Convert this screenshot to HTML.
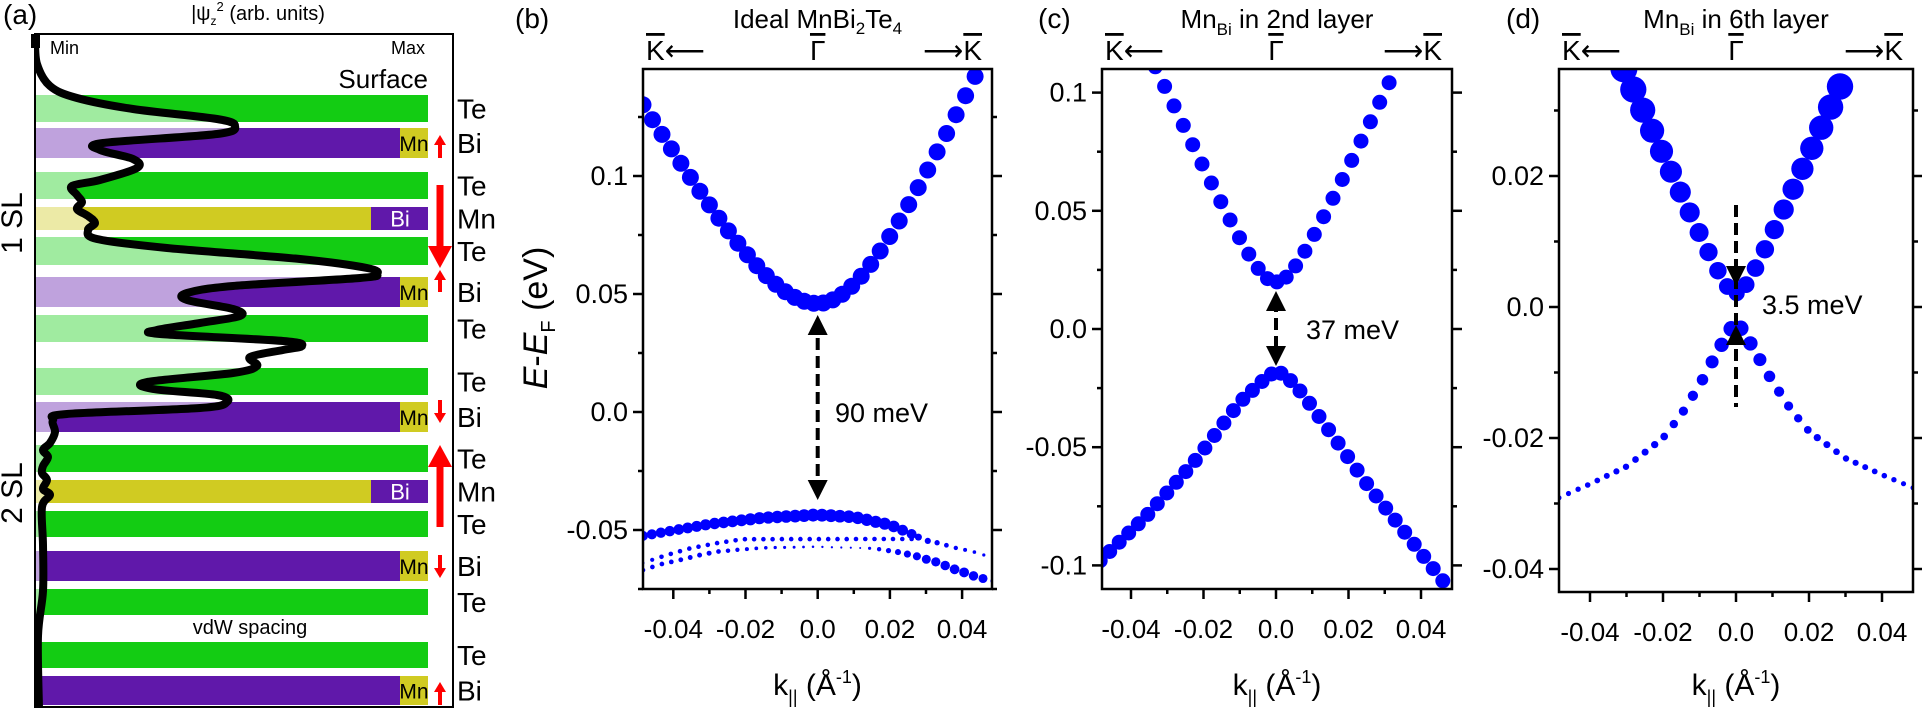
<!DOCTYPE html>
<html><head><meta charset="utf-8">
<style>
html,body{margin:0;padding:0;background:#fff;}
svg{display:block;font-family:"Liberation Sans",Arial,sans-serif;}
.ov{text-decoration:overline;}
</style></head>
<body>
<svg id="s" width="1922" height="713" viewBox="0 0 1922 713" xmlns="http://www.w3.org/2000/svg">
<defs>
<clipPath id="cb"><rect x="643" y="69" width="349" height="520"/></clipPath>
<clipPath id="cc"><rect x="1102" y="69" width="350" height="520"/></clipPath>
<clipPath id="cd"><rect x="1559" y="69" width="354" height="523"/></clipPath>
<clipPath id="ca"><rect x="35" y="34" width="418" height="673"/></clipPath>
</defs>
<text x="3" y="24" font-size="28">(a)</text>
<text x="258" y="20" font-size="20" text-anchor="middle">|ψ<tspan font-size="12" dy="5">z</tspan><tspan dy="-14" font-size="13">2</tspan><tspan dy="9"> (arb. units)</tspan></text>
<g id="bars"></g>
<rect x="35" y="34" width="418" height="673" fill="none" stroke="#000" stroke-width="2"/>
<text x="50" y="54" font-size="18">Min</text>
<text x="425" y="54" font-size="18" text-anchor="end">Max</text>
<text x="428" y="88" font-size="26" text-anchor="end">Surface</text>
<text x="250" y="634" font-size="20" text-anchor="middle">vdW spacing</text>
<text transform="translate(22,223) rotate(-90)" font-size="30" text-anchor="middle">1 SL</text>
<text transform="translate(22,493) rotate(-90)" font-size="30" text-anchor="middle">2 SL</text>
<g id="labs"></g>
<g id="curve"></g>
<g id="pb"></g><g id="pc"></g><g id="pd"></g>
</svg>
<script>
const NS="http://www.w3.org/2000/svg";
function el(p,t,a,txt){const e=document.createElementNS(NS,t);for(const k in a)e.setAttribute(k,a[k]);if(txt!==undefined)e.textContent=txt;p.appendChild(e);return e;}
function interp(pts,x){if(x<=pts[0][0])return pts[0][1];for(let i=1;i<pts.length;i++){if(x<=pts[i][0]){const a=pts[i-1],b=pts[i];return a[1]+(b[1]-a[1])*(x-a[0])/(b[0]-a[0]);}}return pts[pts.length-1][1];}
const s=document.getElementById('s');
const bars=document.getElementById('bars');
const G="#13cc13",P="#6018aa",Y="#d0cb22";
const rows=[["Te",95,122],["Bi",128,158],["Te",172,199],["Mn",207,230],["Te",237,265],["Bi",277,307],["Te",315,342],["Te",368,395],["Bi",402,432],["Te",445,472],["Mn",480,503],["Te",511,537],["Bi",551,581],["Te",589,615],["Te",642,668],["Bi",676,705]];
const labs=document.getElementById('labs');
rows.forEach(r=>{
 const [t,y1,y2]=r;const h=y2-y1;
 if(t=="Te"){el(bars,'rect',{x:35,y:y1,width:393,height:h,fill:G});}
 else if(t=="Bi"){el(bars,'rect',{x:35,y:y1,width:365,height:h,fill:P});el(bars,'rect',{x:400,y:y1,width:28,height:h,fill:Y});el(bars,'text',{x:414,y:(y1+y2)/2+8,'font-size':21,'text-anchor':'middle'},'Mn');}
 else {el(bars,'rect',{x:35,y:y1,width:336,height:h,fill:Y});el(bars,'rect',{x:371,y:y1,width:57,height:h,fill:P});el(bars,'text',{x:400,y:(y1+y2)/2+8,'font-size':22,'text-anchor':'middle',fill:'#fff'},'Bi');}
 el(labs,'text',{x:457,y:(y1+y2)/2+10,'font-size':28},t);
});
function rarrow(x,y1,y2,w,hw,hl){
 const dir=y2>y1?1:-1;
 el(labs,'line',{x1:x,y1:y1,x2:x,y2:y2-dir*hl,stroke:'#f00','stroke-width':w});
 el(labs,'polygon',{points:`${x-hw},${y2-dir*hl} ${x+hw},${y2-dir*hl} ${x},${y2}`,fill:'#f00'});
}
rarrow(440,158,135,4,6,10);
rarrow(440,185,268,7,12,22);
rarrow(440,292,270,4,6,10);
rarrow(440,400,423,4,6,10);
rarrow(440,527,445,7,12,22);
rarrow(440,555,578,4,6,10);
rarrow(440,705,682,4,6,10);
const cp=[[35,39],[37,64],[50,86],[77,98],[133,109],[217,119],[235,126],[217,134],[103,143],[100,150],[133,159],[137,168],[100,180],[72,186],[77,195],[82,202],[77,209],[88,216],[95,223],[88,230],[97,239],[167,248],[300,259],[367,268],[377,274],[360,278],[233,286],[187,293],[187,300],[233,309],[240,316],[200,323],[157,330],[160,334],[283,341],[302,346],[283,350],[250,357],[257,366],[233,373],[147,382],[153,389],[217,395],[227,402],[200,408],[67,414],[53,420],[55,432],[50,443],[43,450],[48,457],[43,466],[42,473],[47,480],[43,489],[50,495],[42,507],[43,545],[43,591],[38,636],[39,709]];
function smooth(p){let d=`M${p[0][0]},${p[0][1]}`;for(let i=0;i<p.length-1;i++){const p0=p[Math.max(0,i-1)],p1=p[i],p2=p[i+1],p3=p[Math.min(p.length-1,i+2)];const c1=[p1[0]+(p2[0]-p0[0])/6,p1[1]+(p2[1]-p0[1])/6],c2=[p2[0]-(p3[0]-p1[0])/6,p2[1]-(p3[1]-p1[1])/6];d+=` C${c1[0]},${c1[1]} ${c2[0]},${c2[1]} ${p2[0]},${p2[1]}`;}return d;}
const cd=smooth(cp);
const cg=document.getElementById('curve');
el(bars,'path',{d:cd+` L35,709 L35,39 Z`,fill:'#fff','fill-opacity':0.6,'clip-path':'url(#ca)'});
el(cg,'path',{d:cd,fill:'none',stroke:'#000','stroke-width':8,'stroke-linejoin':'round','clip-path':'url(#ca)'});
el(cg,'rect',{x:31,y:34,width:9,height:14,fill:'#000'});

function panel(g,o){
 const {x0,x1,y0,y1,kx,k0,ey,e0}=o;
 const px=k=>k0+k*kx, py=E=>e0-E*ey;
 const dg=el(g,'g',{'clip-path':`url(#${o.clip})`,fill:'#0000ff'});
 o.series.forEach(sr=>{const n=Math.round((sr.b-sr.a)/sr.step);for(let i=0;i<=n;i++){const k=sr.a+(sr.b-sr.a)*i/n;const E=sr.E(k),r=sr.r(k);if(r>0.3)el(dg,'circle',{cx:px(k).toFixed(1),cy:py(E).toFixed(1),r:r.toFixed(2)});}});
 el(g,'rect',{x:x0,y:y0,width:x1-x0,height:y1-y0,fill:'none',stroke:'#000','stroke-width':2.5});
 o.yt.forEach(t=>{const y=py(t[0]);const L=t[1]?10:5;
  el(g,'line',{x1:x0-L,y1:y,x2:x0,y2:y,stroke:'#000','stroke-width':2.5});
  el(g,'line',{x1:x1,y1:y,x2:x1+L,y2:y,stroke:'#000','stroke-width':2.5});
  if(t[1])el(g,'text',{x:x0-15,y:y+9,'font-size':27,'text-anchor':'end'},t[1]);});
 o.xt.forEach(t=>{const x=px(t[0]);const L=t[1]?10:5;
  el(g,'line',{x1:x,y1:y1,x2:x,y2:y1+L,stroke:'#000','stroke-width':2.5});
  if(t[1])el(g,'text',{x:x,y:y1+49,'font-size':26,'text-anchor':'middle'},t[1]);});
 const xc=(x0+x1)/2;
 const tx=el(g,'text',{x:xc,y:695,'font-size':30,'text-anchor':'middle'});
 tx.innerHTML='k<tspan font-size="18" dy="8">||</tspan><tspan dy="-8"> (Å</tspan><tspan font-size="18" dy="-12">-1</tspan><tspan dy="12">)</tspan>';
 const t1=el(g,'text',{x:px(0),y:60,'font-size':28,'text-anchor':'middle'});t1.innerHTML='<tspan class="ov">Γ</tspan>';
 const t2=el(g,'text',{x:x0+3,y:60,'font-size':28});t2.innerHTML='<tspan class="ov">K</tspan>⟵';
 const t3=el(g,'text',{x:x1-10,y:60,'font-size':28,'text-anchor':'end'});t3.innerHTML='⟶<tspan class="ov">K</tspan>';
 el(g,'text',{x:o.lx,y:28,'font-size':28},o.lab);
 const tt=el(g,'text',{x:xc,y:28,'font-size':26,'text-anchor':'middle'});tt.innerHTML=o.title;
 const a=o.arr;const ax=px(0);
 el(g,'line',{x1:ax,y1:a.t,x2:ax,y2:a.b,stroke:'#000','stroke-width':4,'stroke-dasharray':'12,6'});
 if(a.up!==undefined)el(g,'polygon',{points:`${ax-10},${a.up+20} ${ax+10},${a.up+20} ${ax},${a.up}`,fill:'#000'});
 if(a.dn!==undefined)el(g,'polygon',{points:`${ax-10},${a.dn-20} ${ax+10},${a.dn-20} ${ax},${a.dn}`,fill:'#000'});
 el(g,'text',{x:a.tx,y:a.ty,'font-size':27},a.txt);
 return {px,py};
}
const hyp=(E0,sl,sr,d)=>k=>E0+(k<0?sl:sr)*(Math.sqrt(k*k+d*d)-d);
const C=v=>()=>v;
panel(document.getElementById('pb'),{x0:643,x1:992,y0:69,y1:589,kx:3610,k0:817.7,ey:2360,e0:412,clip:'cb',lab:'(b)',lx:515,
 title:'Ideal MnBi<tspan font-size="17" dy="6">2</tspan><tspan dy="-6">Te</tspan><tspan font-size="17" dy="6">4</tspan>',
 yt:[[0.125,''],[0.1,'0.1'],[0.075,''],[0.05,'0.05'],[0.025,''],[0,'0.0'],[-0.025,''],[-0.05,'-0.05'],[-0.075,'']],
 xt:[[-0.04,'-0.04'],[-0.03,''],[-0.02,'-0.02'],[-0.01,''],[0,'0.0'],[0.01,''],[0.02,'0.02'],[0.03,''],[0.04,'0.04']],
 arr:{t:320,b:495,up:315,dn:500,tx:835,ty:422,txt:'90 meV'},
 series:[
  {a:-0.0484,b:0.0436,step:0.00263,E:hyp(0.046,2.6,3.44,0.02),r:C(8.5)},
  {a:-0.0484,b:0.026,step:0.0025,E:k=>interp([[-0.0484,-0.0525],[-0.03,-0.0475],[-0.015,-0.0448],[0,-0.0436],[0.01,-0.0445],[0.02,-0.0478],[0.026,-0.0517]],k),r:k=>interp([[-0.0484,5],[-0.02,6],[0,6.5],[0.02,6],[0.026,5]],k)},
  {a:0.0279,b:0.046,step:0.0026,E:k=>interp([[0.0279,-0.053],[0.0306,-0.0547],[0.0331,-0.0554],[0.038,-0.0575],[0.0431,-0.0592],[0.0459,-0.0606]],k),r:k=>interp([[0.028,3.5],[0.034,2.5],[0.046,1.6]],k)},
  {a:-0.0484,b:0.026,step:0.0026,E:k=>interp([[-0.0484,-0.064],[-0.046,-0.0627],[-0.0409,-0.0602],[-0.0354,-0.0578],[-0.028,-0.0556],[-0.0207,-0.0539],[0.026,-0.0538]],k),r:k=>interp([[-0.0484,1.5],[-0.045,2.3],[0.026,2.3]],k)},
  {a:-0.0484,b:0.0484,step:0.0026,E:k=>interp([[-0.0484,-0.067],[-0.0432,-0.0644],[-0.0381,-0.0627],[-0.0326,-0.0606],[-0.028,-0.0592],[-0.0207,-0.0582],[-0.0141,-0.0575],[0,-0.0571],[0.0154,-0.0578],[0.02,-0.0588],[0.0228,-0.0595],[0.0279,-0.0613],[0.0306,-0.0627],[0.0334,-0.0638],[0.0357,-0.0653],[0.038,-0.0667],[0.0408,-0.0681],[0.0431,-0.0694],[0.0459,-0.0706],[0.0484,-0.0716]],k),r:k=>interp([[-0.0484,2.3],[-0.03,2.5],[-0.015,1.8],[0,1.2],[0.012,1],[0.016,2],[0.022,3],[0.03,4.5],[0.04,5],[0.046,4.5],[0.0484,2]],k)}
 ]});
{const t=el(s,'text',{transform:'translate(547,318) rotate(-90)','font-size':34,'text-anchor':'middle'});
 t.innerHTML='<tspan font-style="italic">E</tspan>-<tspan font-style="italic">E</tspan><tspan font-size="20" dy="8">F</tspan><tspan dy="-8"> (eV)</tspan>';}
panel(document.getElementById('pc'),{x0:1102,x1:1452,y0:69,y1:589,kx:3625,k0:1276,ey:2364,e0:329,clip:'cc',lab:'(c)',lx:1038,
 title:'Mn<tspan font-size="17" dy="7">Bi</tspan><tspan dy="-7"> in 2nd layer</tspan>',
 yt:[[0.1,'0.1'],[0.075,''],[0.05,'0.05'],[0.025,''],[0,'0.0'],[-0.025,''],[-0.05,'-0.05'],[-0.075,''],[-0.1,'-0.1']],
 xt:[[-0.04,'-0.04'],[-0.03,''],[-0.02,'-0.02'],[-0.01,''],[0,'0.0'],[0.01,''],[0.02,'0.02'],[0.03,''],[0.04,'0.04']],
 arr:{t:300,b:360,up:291,dn:366,tx:1306,ty:339,txt:'37 meV'},
 series:[
  {a:-0.0333,b:0.0312,step:0.00263,E:hyp(0.0199,3.27,3.27,0.006),r:C(7.5)},
  {a:-0.0485,b:0.046,step:0.00263,E:k=>interp([[-0.0485,-0.098],[-0.0357,-0.079],[-0.0229,-0.0569],[-0.01,-0.031],[-0.0026,-0.0204],[0,-0.0178],[0.0026,-0.0195],[0.0075,-0.0277],[0.0154,-0.0445],[0.0255,-0.0665],[0.0384,-0.0916],[0.046,-0.1065]],k),r:C(7.5)}
 ]});
const dlow=[[0,0],[0.005,0.0044],[0.01,0.0093],[0.015,0.0135],[0.02,0.0169],[0.03,0.021],[0.04,0.0235],[0.0485,0.0255]];
panel(document.getElementById('pd'),{x0:1559,x1:1913,y0:69,y1:592,kx:3650,k0:1736,ey:6550,e0:307,clip:'cd',lab:'(d)',lx:1506,
 title:'Mn<tspan font-size="17" dy="7">Bi</tspan><tspan dy="-7"> in 6th layer</tspan>',
 yt:[[0.03,''],[0.02,'0.02'],[0.01,''],[0,'0.0'],[-0.01,''],[-0.02,'-0.02'],[-0.03,''],[-0.04,'-0.04']],
 xt:[[-0.04,'-0.04'],[-0.03,''],[-0.02,'-0.02'],[-0.01,''],[0,'0.0'],[0.01,''],[0.02,'0.02'],[0.03,''],[0.04,'0.04']],
 arr:{t:205,b:407,up:325,dn:286,tx:1762,ty:314,txt:'3.5 meV'},
 series:[
  {a:-0.0485,b:0.0485,step:0.0026,E:k=>-0.0021-interp(dlow,Math.abs(k))*(k<0?1.06:1),r:k=>interp([[0,8],[0.005,7],[0.01,5.5],[0.015,4.5],[0.02,3.8],[0.03,3.2],[0.048,2.5]],Math.abs(k))},
  {a:-0.0307,b:0.0285,step:0.0026,E:hyp(0.0021,1.23,1.23,0.003),r:k=>interp([[0,8],[0.01,9.5],[0.02,11.5],[0.03,13.5]],Math.abs(k))}
 ]});
</script>
</body></html>
